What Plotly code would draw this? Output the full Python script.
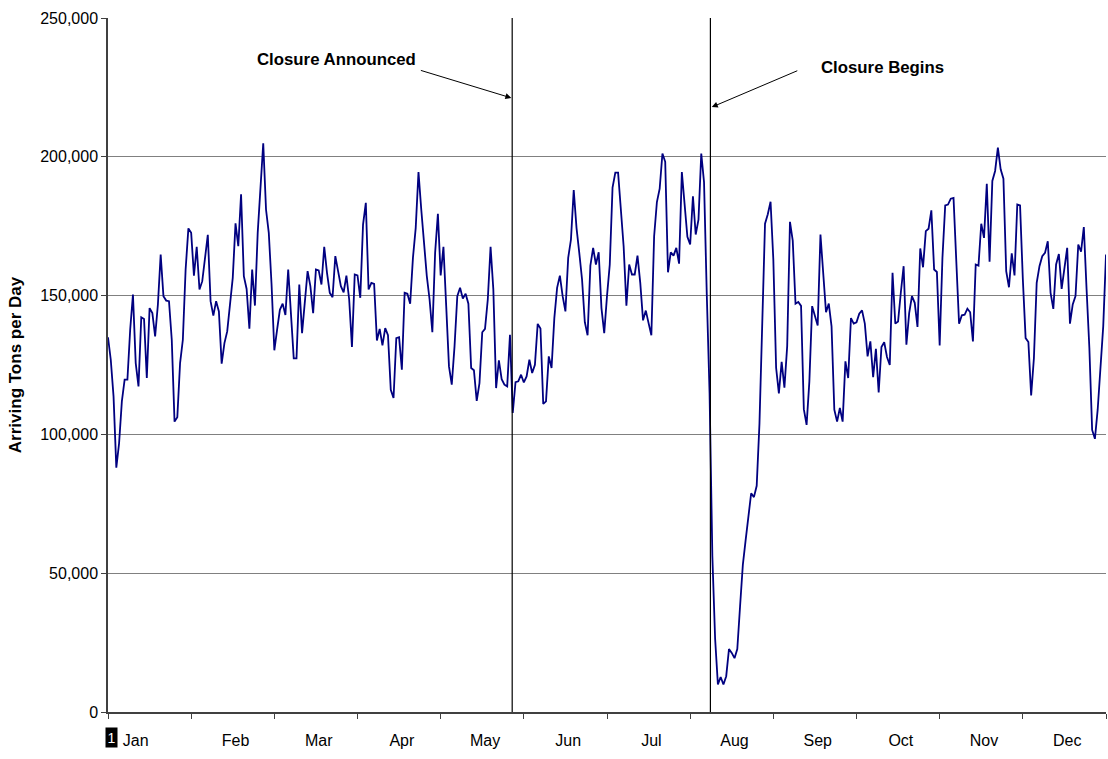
import plotly.graph_objects as go

# daily arriving tons (361 daily points)
tons_per_day = [
    135000, 126900, 113700, 88000, 96800, 111900, 119700, 119700, 137700, 150400,
    125700, 117300, 142200, 141600, 120300, 145500, 143700, 135300, 146800, 164800,
    149800, 148200, 148000, 134100, 104600, 106200, 125700, 134100, 159400, 174200,
    172600, 157200, 167600, 152200, 155200,
    163600, 171900, 148000, 142800, 148000, 144300, 125500, 132900, 137100, 147400,
    156400, 176000, 167800, 186500, 157000, 152400, 138100, 159400, 146400, 172600,
    188300, 204900, 181000, 172600, 154000, 130300, 137700, 144900, 147100, 143000,
    159400, 143700, 127400, 127400, 154000, 136500,
    147400, 158800, 153400, 143700, 159400, 159100, 154000, 167600, 158200, 151000,
    149400, 164200, 158800, 153400, 151200, 157200, 148600, 131500, 157600, 157300,
    149200, 175600, 183400, 152200, 154600, 154200, 133800, 138000, 132100, 138300,
    135700, 116100, 113100, 134700, 135000, 123300,
    151000, 150700, 147100, 163600, 174400, 194500, 181000, 167800, 157000, 148600,
    136800, 165400, 179500, 157300, 167600, 146200, 124500, 117900, 131700, 149800,
    152800, 148900, 150700, 147100, 123900, 123100, 112100, 118500, 136800, 138000,
    148600, 167600, 152200, 116700, 126700, 119900,
    117900, 117300, 135900, 107700, 118800, 119100, 121500, 118700, 120900, 126900,
    122100, 125100, 139800, 138100, 111000, 111900, 128100, 123900, 141900, 152800,
    157200, 149800, 144300, 163600, 170200, 188000, 174400, 165400, 155800, 140400,
    135700, 160800, 167200, 161200, 165600, 145500,
    136500, 149800, 161200, 188900, 194300, 194300, 181000, 167800, 146400, 161200,
    157600, 157600, 164400, 154600, 141100, 144600, 140100, 135700, 171400, 183700,
    188500, 201200, 198200, 158400, 165600, 164400, 167200, 161500, 194500, 183400,
    171200, 168400, 185800, 172000, 177400, 201200,
    190900, 150100, 114800, 56300, 26400, 9900, 12600, 9900, 12900, 22700,
    21300, 19400, 22700, 38100, 53000, 61800, 71600, 78800, 77400, 81500,
    103900, 144700, 175900, 179300, 183800, 163000, 124000, 114800, 126100, 116800,
    131800, 176600, 169800, 147100, 147700, 146300,
    109100, 103400, 119100, 146200, 142500, 139200, 172000, 157000, 144000, 147100,
    138900, 108900, 104600, 109500, 104600, 126300, 120300, 141900, 139900, 140400,
    143500, 144700, 139900, 128100, 133500, 120600, 130800, 115100, 131500, 133200,
    127900, 125000, 158200, 139900, 140700, 151200, 160600,
    132300, 143700, 149800, 147400, 138700, 167000, 160200, 173200, 174100, 180700,
    159400, 158500, 132000, 163600, 182500, 182800, 184900, 185200, 162400, 139900,
    142900, 143100, 145300, 144000, 133500, 161200, 160800, 175900, 170800, 190300,
    162200, 191300, 194900, 203300, 195500, 192100,
    158800, 153000, 165200, 157300, 182800, 182500, 156000, 134700, 133300, 114000,
    127500, 154600, 160600, 164200, 165400, 169600, 151000, 145200, 161200, 165000,
    152400, 159600, 167200, 139900, 146800, 149800, 168400, 165800, 174700, 152200,
    131100, 101600, 98400, 108900, 123900, 138900, 164800,
]

month_labels = ["Jan", "Feb", "Mar", "Apr", "May", "Jun",
                "Jul", "Aug", "Sep", "Oct", "Nov", "Dec"]

# day index of the two events
event_days = [145.8, 217.3]

FONT = "Liberation Sans, Arial, sans-serif"
n = len(tons_per_day)
days = list(range(n))
per_month = (n - 1) / 12

fig = go.Figure()

fig.add_trace(go.Scatter(
    x=days, y=tons_per_day, mode="lines",
    line=dict(color="#000080", width=1.8),
    hoverinfo="skip", showlegend=False,
))

for d in event_days:
    fig.add_shape(type="line", xref="x", yref="paper", x0=d, x1=d, y0=0, y1=1,
                  line=dict(color="black", width=1.2))

# text labels
fig.add_annotation(x=82.6, y=235200, text="<b>Closure Announced</b>",
                   showarrow=False, font=dict(size=16.8, color="black", family=FONT))
fig.add_annotation(x=279.2, y=232300, text="<b>Closure Begins</b>",
                   showarrow=False, font=dict(size=16.8, color="black", family=FONT))
# arrows
fig.add_annotation(x=event_days[0] - 0.3, y=221200, ax=-92, ay=-28, text="",
                   showarrow=True, arrowhead=2, arrowsize=1.2, arrowwidth=1,
                   arrowcolor="black", standoff=0)
fig.add_annotation(x=event_days[1] + 0.5, y=217900, ax=87, ay=-37, text="",
                   showarrow=True, arrowhead=2, arrowsize=1.2, arrowwidth=1,
                   arrowcolor="black", standoff=0)

# odd "1" marker at the origin
fig.add_annotation(xref="paper", yref="paper", x=0, y=0, yshift=-36, xshift=-3,
                   text="1", showarrow=False, bgcolor="black", borderpad=1.5,
                   font=dict(size=14, color="white", family=FONT))

label_pos = [i * per_month + per_month / 2 + 1 for i in range(12)]
label_pos[0] = 10

fig.update_xaxes(
    range=[0, n - 1], automargin=False,
    tickmode="array", tickvals=label_pos, ticktext=month_labels,
    ticks="", showgrid=False, zeroline=False,
    showline=True, linecolor="#404040", linewidth=1.5,
    ticklabelstandoff=13,
    tickfont=dict(size=16, color="black", family=FONT),
    minor=dict(tickmode="array",
               tickvals=[i * per_month for i in range(13)],
               ticks="outside", ticklen=5, tickcolor="#404040", tickwidth=1.2),
)
fig.update_yaxes(
    range=[0, 250000], automargin=False,
    tickmode="linear", tick0=0, dtick=50000,
    tickformat=",", ticks="outside", ticklen=5, tickcolor="#404040",
    showgrid=True, gridcolor="#808080", gridwidth=1, zeroline=False,
    showline=True, linecolor="#404040", linewidth=1.5,
    tickfont=dict(size=16, color="black", family=FONT),
    title=dict(text="<b>Arriving Tons per Day</b>", standoff=14,
               font=dict(size=17, color="black", family=FONT)),
)

fig.update_layout(
    width=1108, height=759,
    margin=dict(l=108, r=2, t=18, b=47),
    plot_bgcolor="white", paper_bgcolor="white",
    font=dict(family=FONT),
)

# drop the page's default body margin so the figure sits at the window's corner
fig.write_html(
    "out.html",
    config={"displayModeBar": False},
    post_script=(
        "document.body.style.margin='0';"
        "document.documentElement.style.overflow='hidden';"
        "document.body.style.overflow='hidden';"
    ),
)
